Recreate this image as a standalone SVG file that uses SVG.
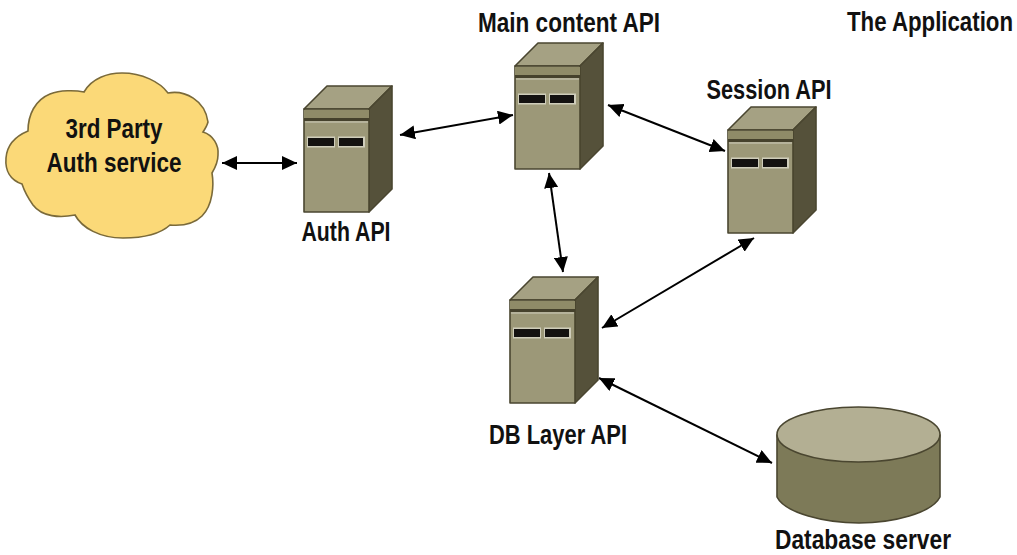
<svg xmlns="http://www.w3.org/2000/svg" xmlns:xlink="http://www.w3.org/1999/xlink" width="1017" height="555" viewBox="0 0 1017 555">
<style>
text{font-family:"Liberation Sans Narrow","Liberation Sans",Arial,sans-serif;font-size:27px;font-weight:700;fill:#111}
.c{stroke:#000;stroke-width:2;fill:none;marker-start:url(#h);marker-end:url(#h)}
.edge{stroke:#4a4630;stroke-width:1.6;stroke-linejoin:round}
</style>
<defs>
<marker id="h" viewBox="0 0 10 10" refX="10" refY="5" markerWidth="15" markerHeight="14" orient="auto-start-reverse" markerUnits="userSpaceOnUse" preserveAspectRatio="none"><path d="M0 0L10 5L0 10Z" fill="#000"/></marker>
<g id="server">
<path class="edge" d="M0 0L23-23H88L65 0Z" fill="#a5a183"/>
<path class="edge" d="M65 0L88-23V80L65 103Z" fill="#55513a"/>
<path class="edge" d="M0 0H65V103H0Z" fill="#9c9878"/>
<path d="M0 1H65V9H0Z" fill="#8f8b68"/>
<path d="M0 9H65V12H0Z" fill="#45412c"/>
<path d="M1 12H64V14H1Z" fill="#b5b29a"/>
<rect x="3" y="27.500" width="28" height="11" fill="#cfcdba"/>
<rect x="34" y="27.500" width="27" height="11" fill="#cfcdba"/>
<rect x="4" y="29" width="26" height="8" fill="#141210"/>
<rect x="35" y="29" width="24" height="8" fill="#141210"/>
</g>
</defs>
<rect width="1017" height="555" fill="#fff"/>
<g id="connectors">
<path class="c" d="M222 163H297"/>
<path class="c" d="M400 135L513 115"/>
<path class="c" d="M608 105L725 151"/>
<path class="c" d="M549 173L563 272"/>
<path class="c" d="M754 238L602 328"/>
<path class="c" d="M599 378L772 463"/>
</g>
<g id="cloud">
<path d="M84 92C92 78 108 73 122 73C142 73 160 82 168 93C185 90 205 100 208 122C207 126 205 129 203 132C213 135 219 145 218 155C218 163 215 168 212 173C214 185 213 205 202 216C194 224 182 226 170 225C158 236 140 238 123 238C100 238 82 228 75 215C60 218 42 217 33 205C28 198 24 190 22 184C10 180 5 170 6 158C7 145 16 136 28 131C28 115 35 100 50 94C60 90 75 90 84 92Z" fill="#fbd978" stroke="#7a6a3a" stroke-width="1.600"/>
<text x="114" y="138" text-anchor="middle" textLength="97" lengthAdjust="spacingAndGlyphs">3rd Party</text>
<text x="114" y="172" text-anchor="middle" textLength="135" lengthAdjust="spacingAndGlyphs">Auth service</text>
</g>
<g id="auth-api"><use xlink:href="#server" href="#server" x="304" y="109"/><text x="346" y="241" text-anchor="middle" textLength="89" lengthAdjust="spacingAndGlyphs">Auth API</text></g>
<g id="main-content-api"><use xlink:href="#server" href="#server" x="515" y="66"/><text x="569" y="32" text-anchor="middle" textLength="182" lengthAdjust="spacingAndGlyphs">Main content API</text></g>
<g id="session-api"><use xlink:href="#server" href="#server" x="728" y="130"/><text x="769" y="99" text-anchor="middle" textLength="125" lengthAdjust="spacingAndGlyphs">Session API</text></g>
<g id="db-layer-api"><use xlink:href="#server" href="#server" x="510" y="300"/><text x="558" y="444" text-anchor="middle" textLength="138" lengthAdjust="spacingAndGlyphs">DB Layer API</text></g>
<g id="database-server">
<path class="edge" d="M777 435V497C785 513 825 523 859 523C893 523 932 513 940 497V435Z" fill="#7d7a58"/>
<ellipse class="edge" cx="858.500" cy="434.500" rx="81.500" ry="27.500" fill="#b3af93"/>
<text x="863" y="549" text-anchor="middle" textLength="176" lengthAdjust="spacingAndGlyphs">Database server</text>
</g>
<text id="title" x="847" y="31" textLength="166" lengthAdjust="spacingAndGlyphs">The Application</text>
</svg>
